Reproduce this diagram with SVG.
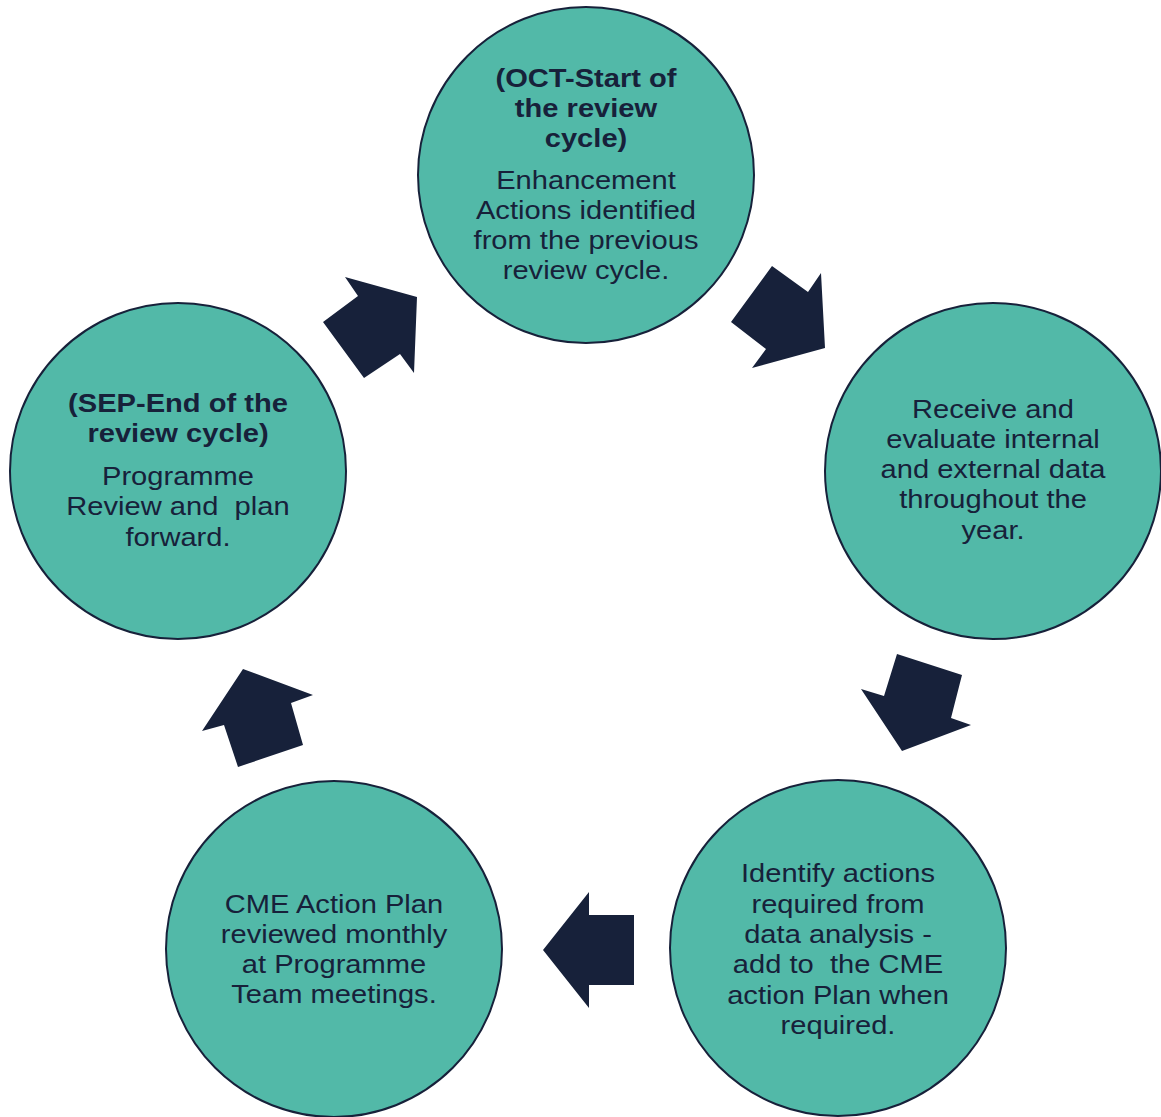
<svg xmlns="http://www.w3.org/2000/svg" width="1161" height="1117" viewBox="0 0 1161 1117">
<style>
.node circle{fill:#52B9A8;stroke:#17213A;stroke-width:2}
.t{font-family:"Liberation Sans",Arial,sans-serif;font-size:26px;fill:#17213A;text-anchor:middle}
.b{font-weight:bold}
.arrow{fill:#17213A}
</style>
<rect width="1161" height="1117" fill="#FFFFFF"/>
<g id="connectors">
<polygon class="arrow" points="772,266 808,292 821,273 825,348 752,368 766,349 731,322"/>
<polygon class="arrow" points="897,654 962,675 951,718 971,725 902,751 861,689 884,696"/>
<polygon class="arrow" points="589,892 589,915 634,915 634,985 589,985 589,1008 543,950"/>
<polygon class="arrow" points="243,669 313,695 291,703 303,745 238,767 224,725 202,731"/>
<polygon class="arrow" points="345,277 417,297 414,373 400,354 364,378 323,322 358,296"/>
</g>
<g id="node-oct" class="node">
<circle cx="586" cy="175" r="168"/>
<g transform="translate(586,0) scale(1.12,1)">
<text class="t b" x="0" y="87">(OCT-Start of</text>
<text class="t b" x="0" y="117">the review</text>
<text class="t b" x="0" y="147">cycle)</text>
<text class="t" x="0" y="189">Enhancement</text>
<text class="t" x="0" y="219">Actions identified</text>
<text class="t" x="0" y="249">from the previous</text>
<text class="t" x="0" y="279">review cycle.</text>
</g>
</g>
<g id="node-receive" class="node">
<circle cx="993" cy="471" r="168"/>
<g transform="translate(993,0) scale(1.12,1)">
<text class="t" x="0" y="418">Receive and</text>
<text class="t" x="0" y="448">evaluate internal</text>
<text class="t" x="0" y="478">and external data</text>
<text class="t" x="0" y="508">throughout the</text>
<text class="t" x="0" y="539">year.</text>
</g>
</g>
<g id="node-identify" class="node">
<circle cx="838" cy="948" r="168"/>
<g transform="translate(838,0) scale(1.12,1)">
<text class="t" x="0" y="882">Identify actions</text>
<text class="t" x="0" y="913">required from</text>
<text class="t" x="0" y="943">data analysis -</text>
<text class="t" x="0" y="973" xml:space="preserve">add to  the CME</text>
<text class="t" x="0" y="1004">action Plan when</text>
<text class="t" x="0" y="1034">required.</text>
</g>
</g>
<g id="node-cme" class="node">
<circle cx="334" cy="949" r="168"/>
<g transform="translate(334,0) scale(1.12,1)">
<text class="t" x="0" y="913">CME Action Plan</text>
<text class="t" x="0" y="943">reviewed monthly</text>
<text class="t" x="0" y="973">at Programme</text>
<text class="t" x="0" y="1003">Team meetings.</text>
</g>
</g>
<g id="node-sep" class="node">
<circle cx="178" cy="471" r="168"/>
<g transform="translate(178,0) scale(1.12,1)">
<text class="t b" x="0" y="412">(SEP-End of the</text>
<text class="t b" x="0" y="442">review cycle)</text>
<text class="t" x="0" y="485">Programme</text>
<text class="t" x="0" y="515" xml:space="preserve">Review and  plan</text>
<text class="t" x="0" y="546">forward.</text>
</g>
</g>
</svg>
